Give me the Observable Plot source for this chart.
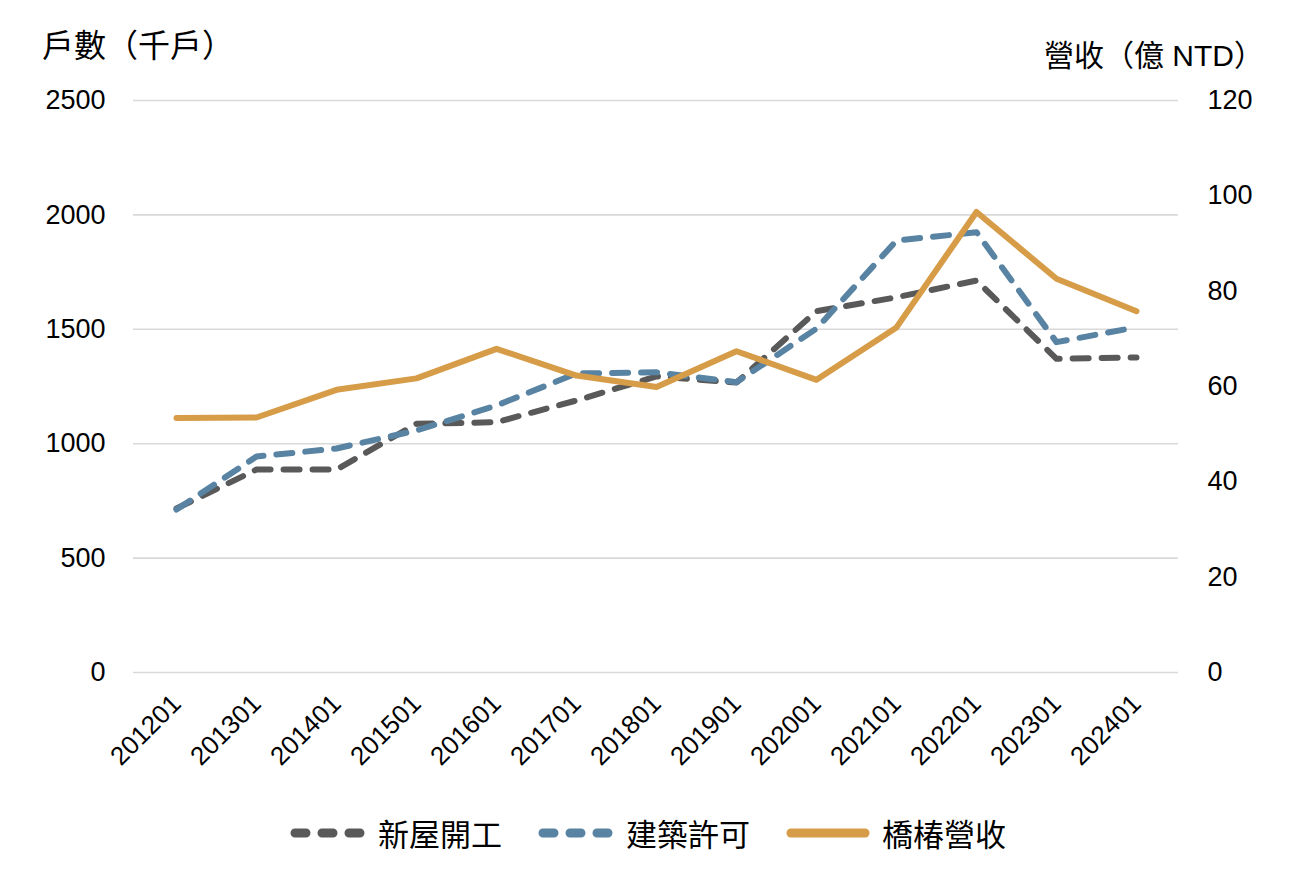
<!DOCTYPE html>
<html>
<head>
<meta charset="utf-8">
<script src="https://cdn.jsdelivr.net/npm/d3@7"></script>
<script src="https://cdn.jsdelivr.net/npm/@observablehq/plot@0.6"></script>
<style>
  html, body { margin: 0; padding: 0; background: #fff; }
  body { font-family: "Liberation Sans", "Noto Sans CJK TC", sans-serif; }
  #wrap { position: relative; width: 1296px; height: 872px; }
  .atitle { position: absolute; font-size: 32px; color: #000; white-space: nowrap; line-height: 1; }
  #legend { position: absolute; left: 0; top: 810px; width: 1296px; display: flex; justify-content: center; align-items: center; font-size: 31px; color: #000; }
  .item { display: flex; align-items: center; margin: 0 18px; }
  .item svg { margin-right: 12px; }
</style>
</head>
<body>
<div id="wrap">
  <div id="chart"></div>
  <div class="atitle" style="left:42px; top:30px;">戶數（千戶）</div>
  <div class="atitle" style="right:32px; top:41px; font-size:30px;">營收（億 NTD）</div>
  <div id="legend"></div>
</div>
<script>
const years = ["201201","201301","201401","201501","201601","201701","201801","201901","202001","202101","202201","202301","202401"];
const starts = [717, 887, 887, 1087, 1094, 1189, 1294, 1267, 1579, 1640, 1713, 1371, 1377];
const permits = [712, 944, 979, 1058, 1167, 1307, 1312, 1269, 1503, 1888, 1924, 1444, 1509];
const revenue = [53.4, 53.5, 59.3, 61.7, 67.9, 62.3, 59.9, 67.4, 61.4, 72.4, 96.6, 82.6, 75.8];
const leftTicks = [0, 500, 1000, 1500, 2000, 2500];
const rightTicks = [0, 20, 40, 60, 80, 100, 120];
const seriesNames = ["新屋開工", "建築許可", "橋椿營收"];
const colors = ["#595959", "#5883a2", "#d69c48"];

const leftMax = 2500, rightMax = 120;
const k = leftMax / rightMax;

const rowsStarts = years.map((y, i) => ({year: y, v: starts[i]}));
const rowsPermits = years.map((y, i) => ({year: y, v: permits[i]}));
const rowsRevenue = years.map((y, i) => ({year: y, v: revenue[i] * k}));

const font = '"Liberation Sans", "Noto Sans CJK TC", sans-serif';

const chart = Plot.plot({
  width: 1296,
  height: 800,
  marginLeft: 133,
  marginRight: 118,
  marginTop: 100,
  marginBottom: 128,
  x: {type: "point", domain: years, padding: 0.5},
  y: {domain: [0, leftMax]},
  style: {fontFamily: font, fontSize: "27px", color: "#000", background: "#fff"},
  marks: [
    Plot.gridY(leftTicks, {stroke: "#d9d9d9", strokeOpacity: 1, strokeWidth: 1.6}),
    Plot.axisY(leftTicks, {anchor: "left", tickSize: 0, tickPadding: 28, label: null, fontSize: 27, tickFormat: d => String(d)}),
    Plot.axisY(rightTicks.map(r => r * k), {anchor: "right", tickSize: 0, tickPadding: 29, label: null, fontSize: 27, tickFormat: d => String(Math.round(d / k))}),
    Plot.axisX({tickRotate: -45, tickSize: 0, tickPadding: 27, label: null, fontSize: 26}),
    Plot.line(rowsStarts, {x: "year", y: "v", stroke: colors[0], strokeWidth: 6, strokeDasharray: "16,13", strokeLinecap: "round", strokeLinejoin: "round"}),
    Plot.line(rowsPermits, {x: "year", y: "v", stroke: colors[1], strokeWidth: 6, strokeDasharray: "16,13", strokeLinecap: "round", strokeLinejoin: "round"}),
    Plot.line(rowsRevenue, {x: "year", y: "v", stroke: colors[2], strokeWidth: 6, strokeLinecap: "round", strokeLinejoin: "round"})
  ]
});
document.getElementById("chart").appendChild(chart);

const legend = document.getElementById("legend");
seriesNames.forEach((name, i) => {
  const item = document.createElement("div");
  item.className = "item";
  const dash = i < 2 ? 'stroke-dasharray="11,16"' : '';
  const w = i < 2 ? 76 : 84;
  item.innerHTML = `<svg width="${w}" height="20"><line x1="5" y1="10" x2="${w - 5}" y2="10" stroke="${colors[i]}" stroke-width="9" stroke-linecap="round" ${dash}/></svg><span>${name}</span>`;
  legend.appendChild(item);
});
</script>
</body>
</html>
